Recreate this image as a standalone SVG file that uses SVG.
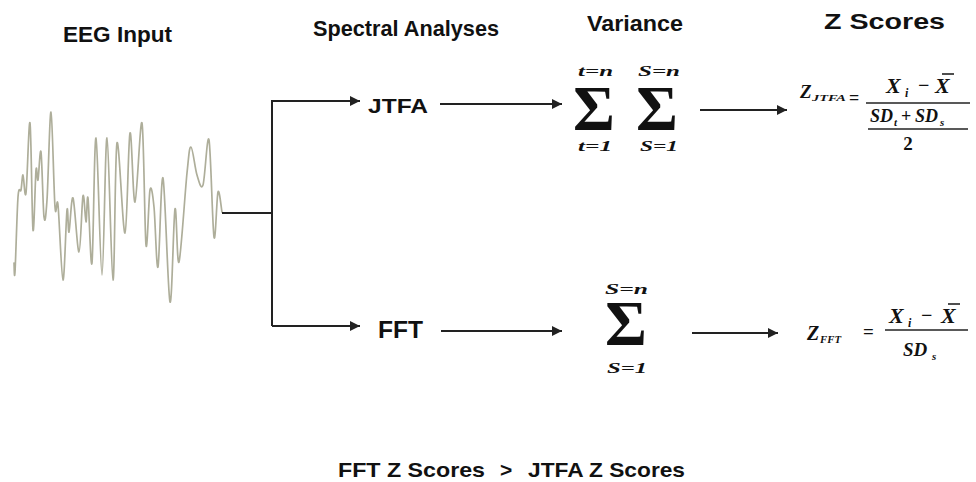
<svg xmlns="http://www.w3.org/2000/svg" width="976" height="482" viewBox="0 0 976 482">
<defs>
<style>
.h{font-family:"Liberation Sans",Arial,sans-serif;font-weight:bold;fill:#111;}
.m{font-family:"Liberation Serif","Times New Roman",serif;font-weight:bold;font-style:italic;fill:#111;}
.mu{font-family:"Liberation Serif","Times New Roman",serif;font-weight:bold;fill:#111;}
.c{fill:none;stroke:#222;stroke-width:2;}
.bar{stroke:#222;stroke-width:1.6;}
.wave{fill:none;stroke:#aeae9a;stroke-width:1.7;stroke-linejoin:round;stroke-linecap:round;}
</style>
<marker id="ah" viewBox="0 0 10 10" refX="10" refY="5" markerWidth="5" markerHeight="5" orient="auto" markerUnits="strokeWidth">
<path d="M0,0 L10,5 L0,10 z" fill="#222"/>
</marker>
</defs>
<rect width="976" height="482" fill="#fff"/>

<g id="headings">
<text class="h" x="63" y="42" font-size="22" textLength="109" lengthAdjust="spacingAndGlyphs">EEG Input</text>
<text class="h" x="313" y="36" font-size="22" textLength="186" lengthAdjust="spacingAndGlyphs">Spectral Analyses</text>
<text class="h" x="587" y="31" font-size="22" textLength="96" lengthAdjust="spacingAndGlyphs">Variance</text>
<text class="h" x="824" y="29" font-size="22" textLength="121" lengthAdjust="spacingAndGlyphs">Z Scores</text>
</g>

<g id="eeg-input">
<path class="wave" d="M14,263 C14.2,264.5 14.3,283 15,272 C15.7,261 17,210.7 18,197 C19,183.3 20.2,193.7 21,190 C21.8,186.3 22.2,174.5 23,175 C23.8,175.5 24.8,201.7 26,193 C27.2,184.3 28.8,116.8 30,123 C31.2,129.2 32,222.2 33,230 C34,237.8 35.2,178.3 36,170 C36.8,161.7 37.2,183 38,180 C38.8,177 40,145.8 41,152 C42,158.2 43,209 44,217 C45,225 45.8,217.5 47,200 C48.2,182.5 49.7,110.8 51,112 C52.3,113.2 53.8,191.5 55,207 C56.2,222.5 56.7,192.8 58,205 C59.3,217.2 61.5,279.2 63,280 C64.5,280.8 66,218 67,210 C68,202 68,234 69,232 C70,230 71.3,194.7 73,198 C74.7,201.3 77.3,252.3 79,252 C80.7,251.7 81.8,201 83,196 C84.2,191 85.2,221.7 86,222 C86.8,222.3 87,191.2 88,198 C89,204.8 90.7,273 92,263 C93.3,253 94.3,136 96,138 C97.7,140 100.2,275 102,275 C103.8,275 105.2,137.2 107,138 C108.8,138.8 111.3,279.2 113,280 C114.7,280.8 115,150.8 117,143 C119,135.2 122.8,234.7 125,233 C127.2,231.3 128.3,138.2 130,133 C131.7,127.8 133,203.7 135,202 C137,200.3 140.2,115.8 142,123 C143.8,130.2 144.7,233.8 146,245 C147.3,256.2 148.7,196.3 150,190 C151.3,183.7 152.7,194.2 154,207 C155.3,219.8 156.5,271.8 158,267 C159.5,262.2 161,172.2 163,178 C165,183.8 168,296.8 170,302 C172,307.2 173.5,215.7 175,209 C176.5,202.3 177,268 179,262 C181,256 185,192.2 187,173 C189,153.8 189.3,146.7 191,147 C192.7,147.3 195,168.7 197,175 C199,181.3 201,190.8 203,185 C205,179.2 207.2,131.3 209,140 C210.8,148.7 212.5,228.3 214,237 C215.5,245.7 216.7,196.2 218,192 C219.3,187.8 221.3,208.7 222,212"/>
</g>

<g id="connectors">
<polyline class="c" points="222,213 272,213"/>
<polyline class="c" points="272,100 272,326"/>
<line class="c" x1="272" y1="101" x2="360" y2="101" marker-end="url(#ah)"/>
<line class="c" x1="272" y1="326" x2="360" y2="326" marker-end="url(#ah)"/>
<line class="c" x1="440" y1="104" x2="562" y2="104" marker-end="url(#ah)"/>
<line class="c" x1="441" y1="331" x2="562" y2="331" marker-end="url(#ah)"/>
<line class="c" x1="700" y1="110" x2="787" y2="110" marker-end="url(#ah)"/>
<line class="c" x1="692" y1="333" x2="778" y2="333" marker-end="url(#ah)"/>
</g>

<g id="jtfa">
<text class="h" x="368" y="113" font-size="20" textLength="60" lengthAdjust="spacingAndGlyphs">JTFA</text>
</g>
<g id="fft">
<text class="h" x="378" y="338" font-size="24" textLength="45" lengthAdjust="spacingAndGlyphs">FFT</text>
</g>

<g id="variance-jtfa">
<text class="m" x="578" y="76" font-size="15" textLength="35" lengthAdjust="spacingAndGlyphs">t=n</text>
<text class="mu" x="594" y="130" font-size="64" text-anchor="middle">Σ</text>
<text class="m" x="578" y="151" font-size="15" textLength="34" lengthAdjust="spacingAndGlyphs">t=1</text>
<text class="m" x="638" y="76" font-size="15" textLength="42" lengthAdjust="spacingAndGlyphs">S=n</text>
<text class="mu" x="657" y="130" font-size="64" text-anchor="middle">Σ</text>
<text class="m" x="640" y="151" font-size="15" textLength="38" lengthAdjust="spacingAndGlyphs">S=1</text>
</g>

<g id="variance-fft">
<text class="m" x="605" y="294" font-size="15" textLength="43" lengthAdjust="spacingAndGlyphs">S=n</text>
<text class="mu" x="626" y="345" font-size="64" text-anchor="middle">Σ</text>
<text class="m" x="607" y="373" font-size="15" textLength="40" lengthAdjust="spacingAndGlyphs">S=1</text>
</g>

<g id="z-jtfa">
<text class="m" x="800" y="98" font-size="19">Z</text>
<text class="m" x="812" y="101" font-size="9" textLength="34" lengthAdjust="spacingAndGlyphs">JTFA</text>
<text class="mu" x="849" y="104" font-size="18">=</text>
<line class="bar" x1="866" y1="103" x2="970" y2="103"/>
<text class="m" x="886" y="93" font-size="22">X</text>
<text class="m" x="905" y="97" font-size="12">i</text>
<text class="mu" x="918" y="92" font-size="20">−</text>
<text class="m" x="935" y="93" font-size="22">X</text>
<line class="bar" x1="942" y1="74" x2="954" y2="74"/>
<text class="m" x="870" y="122" font-size="18">SD</text>
<text class="m" x="894" y="126" font-size="11">t</text>
<text class="mu" x="901" y="122" font-size="18">+</text>
<text class="m" x="915" y="122" font-size="18">SD</text>
<text class="m" x="940" y="126" font-size="11">s</text>
<line class="bar" x1="868" y1="129" x2="968" y2="129"/>
<text class="mu" x="908" y="150" font-size="19" text-anchor="middle">2</text>
</g>

<g id="z-fft">
<text class="m" x="807" y="340" font-size="20">Z</text>
<text class="m" x="820" y="343" font-size="10" textLength="21" lengthAdjust="spacingAndGlyphs">FFT</text>
<text class="mu" x="863" y="338" font-size="19">=</text>
<line class="bar" x1="885" y1="330" x2="968" y2="330"/>
<text class="m" x="889" y="323" font-size="22">X</text>
<text class="m" x="908" y="327" font-size="12">i</text>
<text class="mu" x="921" y="322" font-size="20">−</text>
<text class="m" x="941" y="323" font-size="22">X</text>
<line class="bar" x1="948" y1="304" x2="960" y2="304"/>
<text class="m" x="903" y="356" font-size="19">SD</text>
<text class="m" x="932" y="360" font-size="11">s</text>
</g>

<g id="conclusion">
<text class="h" y="477" font-size="21"><tspan x="338" textLength="147" lengthAdjust="spacingAndGlyphs">FFT Z Scores</tspan><tspan x="500">&gt;</tspan><tspan x="528" textLength="157" lengthAdjust="spacingAndGlyphs">JTFA Z Scores</tspan></text>
</g>
</svg>
